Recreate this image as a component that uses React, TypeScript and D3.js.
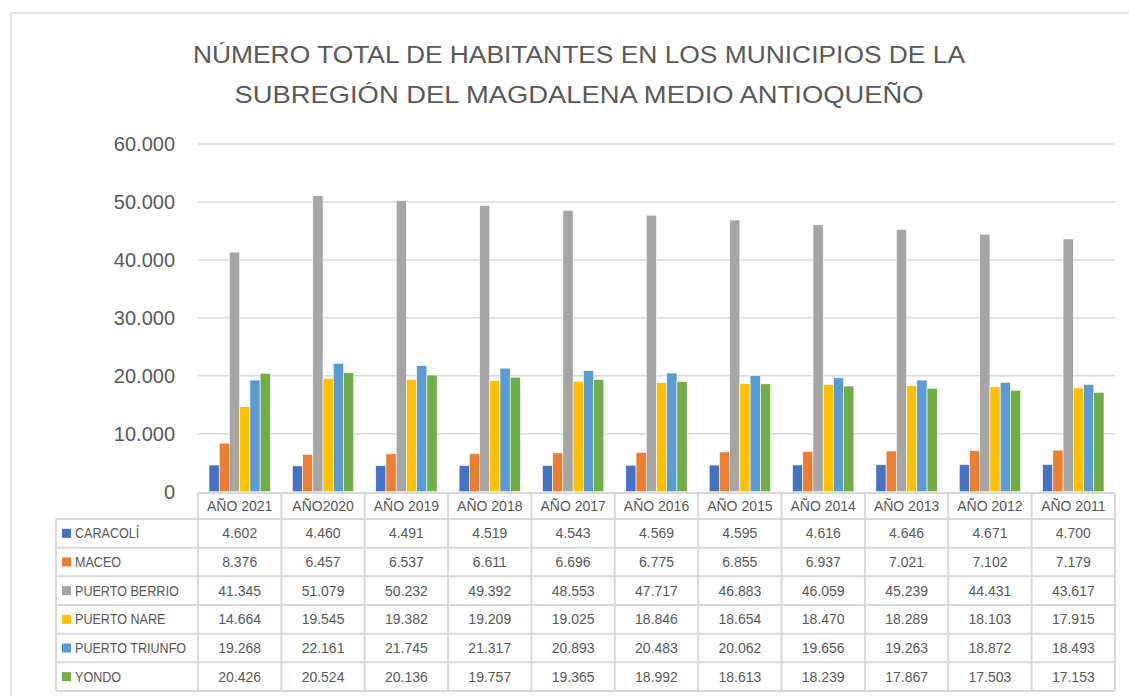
import React from "react";
import * as d3 from "d3";

const categories = ["AÑO 2021", "AÑO2020", "AÑO 2019", "AÑO 2018", "AÑO 2017", "AÑO 2016", "AÑO 2015", "AÑO 2014", "AÑO 2013", "AÑO 2012", "AÑO 2011"];
const seriesNames = ["CARACOLÍ", "MACEO", "PUERTO BERRIO", "PUERTO NARE", "PUERTO TRIUNFO", "YONDO"];
const caracoli = [4602, 4460, 4491, 4519, 4543, 4569, 4595, 4616, 4646, 4671, 4700];
const maceo = [8376, 6457, 6537, 6611, 6696, 6775, 6855, 6937, 7021, 7102, 7179];
const puertoBerrio = [41345, 51079, 50232, 49392, 48553, 47717, 46883, 46059, 45239, 44431, 43617];
const puertoNare = [14664, 19545, 19382, 19209, 19025, 18846, 18654, 18470, 18289, 18103, 17915];
const puertoTriunfo = [19268, 22161, 21745, 21317, 20893, 20483, 20062, 19656, 19263, 18872, 18493];
const yondo = [20426, 20524, 20136, 19757, 19365, 18992, 18613, 18239, 17867, 17503, 17153];
const seriesValues = [caracoli, maceo, puertoBerrio, puertoNare, puertoTriunfo, yondo];
const colors = ["#4472C4", "#ED7D31", "#A5A5A5", "#FFC000", "#5B9BD5", "#70AD47"];
const yTicks = [0, 10000, 20000, 30000, 40000, 50000, 60000];
const titleLines = ["NÚMERO TOTAL DE HABITANTES EN LOS MUNICIPIOS DE LA", "SUBREGIÓN DEL MAGDALENA MEDIO ANTIOQUEÑO"];

const fmt = (v: number) => d3.format(",")(v).replace(/,/g, ".");

export default function App() {
  const W = 1129, H = 696;
  const plotL = 198, plotR = 1115, plotT = 144, plotB = 491.7;
  const legL = 56;
  const headerT = 493, headerB = 519;
  const rowH = (691 - 519) / 6;
  const font = "'Liberation Sans', Arial, sans-serif";
  const textColor = "#595959";
  const grid = "#D9D9D9";

  const x = d3.scaleBand<string>().domain(categories).range([plotL, plotR]).paddingInner(0).paddingOuter(0);
  const bw = x.bandwidth();
  const groupOff = bw * 0.132;
  const xs = d3.scaleBand<number>().domain(d3.range(seriesNames.length)).range([0, bw - 2 * groupOff]).padding(0);
  const y = d3.scaleLinear().domain([0, 60000]).range([plotB, plotT]);

  return (
    <svg width={W} height={H} style={{ position: "absolute", left: 0, top: 0 }}>
      <rect x={0} y={0} width={W} height={H} fill="#fff" />
      <rect x={11} y={13} width={W + 20} height={H + 20} fill="none" stroke={grid} strokeWidth={1.5} />
      {titleLines.map((t, i) => (
        <text key={i} x={579} y={i === 0 ? 63 : 103} textAnchor="middle" fontFamily={font} fontSize={24.5} fill={textColor}
          textLength={i === 0 ? 772 : 689} lengthAdjust="spacingAndGlyphs">{t}</text>
      ))}
      {yTicks.map((t) => (
        <g key={t}>
          {t > 0 && <line x1={plotL} x2={plotR} y1={y(t)} y2={y(t)} stroke={grid} strokeWidth={1.5} />}
          <text x={175} y={y(t)} dy="0.35em" textAnchor="end" fontFamily={font} fontSize={20} fill={textColor}>{fmt(t)}</text>
        </g>
      ))}
      {categories.map((c, ci) => (
        <g key={c} transform={`translate(${(x(c) as number) + groupOff},0)`}>
          {seriesValues.map((vals, si) => (
            <rect key={si} x={xs(si)} y={y(vals[ci])} width={xs.bandwidth()} height={plotB - y(vals[ci])}
              fill={colors[si]} stroke="#fff" strokeWidth={0.6} />
          ))}
        </g>
      ))}
      {/* table */}
      <g fontFamily={font} fontSize={14} fill={textColor}>
        {categories.map((c) => (
          <text key={c} x={(x(c) as number) + bw / 2} y={(headerT + headerB) / 2} dy="0.35em" textAnchor="middle">{c}</text>
        ))}
        {seriesNames.map((s, si) => {
          const cy = headerB + rowH * si + rowH / 2;
          return (
            <g key={s}>
              <rect x={62} y={cy - 4.5} width={9} height={9} fill={colors[si]} />
              <text transform={`translate(75,${cy}) scale(0.9,1)`} dy="0.35em">{s}</text>
              {categories.map((c, ci) => (
                <text key={c} x={(x(c) as number) + bw / 2} y={cy} dy="0.35em" textAnchor="middle">{fmt(seriesValues[si][ci])}</text>
              ))}
            </g>
          );
        })}
      </g>
      <g stroke={grid} strokeWidth={2} fill="none">
        <line x1={plotL} x2={plotR} y1={headerT} y2={headerT} />
        {d3.range(7).map((i) => (
          <line key={i} x1={legL} x2={plotR} y1={headerB + rowH * i} y2={headerB + rowH * i} />
        ))}
        <line x1={legL} x2={legL} y1={headerB} y2={headerB + rowH * 6} />
        {categories.map((c) => (
          <line key={c} x1={x(c) as number} x2={x(c) as number} y1={headerT} y2={headerB + rowH * 6} />
        ))}
        <line x1={plotR} x2={plotR} y1={headerT} y2={headerB + rowH * 6} />
      </g>
    </svg>
  );
}
